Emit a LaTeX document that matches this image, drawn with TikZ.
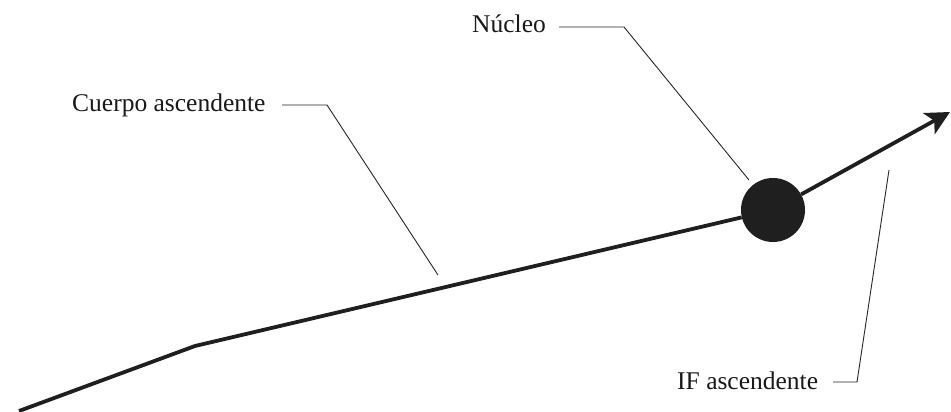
\documentclass[tikz,border=0pt]{standalone}
\usepackage{fontspec}
\setmainfont{Liberation Serif}
\usetikzlibrary{arrows.meta}
\tikzset{
  mainline/.style={line width=3.8pt, color=black!88},
  leader/.style={line width=0.9pt, color=black!85},
  lbl/.style={inner sep=0pt, font=\fontsize{25.5}{30}\selectfont, text=black!90},
  nucleus/.style={circle, fill=black!88, minimum size=64pt, inner sep=0pt}
}
\begin{document}
\begin{tikzpicture}[x=1pt,y=-1pt]
\useasboundingbox (0,0) rectangle (951,412);
% main path
\coordinate (start) at (19,411);
\coordinate (bend) at (195,346);
\node[nucleus] (nuc) at (773,210) {};
\coordinate (tip) at (950,112);
\draw[mainline, line join=round] (start) -- (bend) -- (nuc);
\draw[mainline, -{Stealth[length=24pt,width=24pt,inset=6pt]}] (nuc) -- (tip);
% labels
\node[lbl, anchor=base west] (lN) at (472,33) {Núcleo};
\node[lbl, anchor=base west] (lC) at (72,111) {Cuerpo ascendente};
\node[lbl, anchor=base west] (lI) at (677,389) {IF ascendente};
% leader lines
\coordinate (nA) at (559,27); \coordinate (nB) at (624,27); \coordinate (nE) at (749,180);
\coordinate (cA) at (282,105); \coordinate (cB) at (327,105); \coordinate (cE) at (438,275);
\coordinate (iA) at (833,382); \coordinate (iB) at (857,382); \coordinate (iE) at (889,170);
\draw[leader] (nA) -- (nB) -- (nE);
\draw[leader] (cA) -- (cB) -- (cE);
\draw[leader] (iA) -- (iB) -- (iE);
\end{tikzpicture}
\end{document}
